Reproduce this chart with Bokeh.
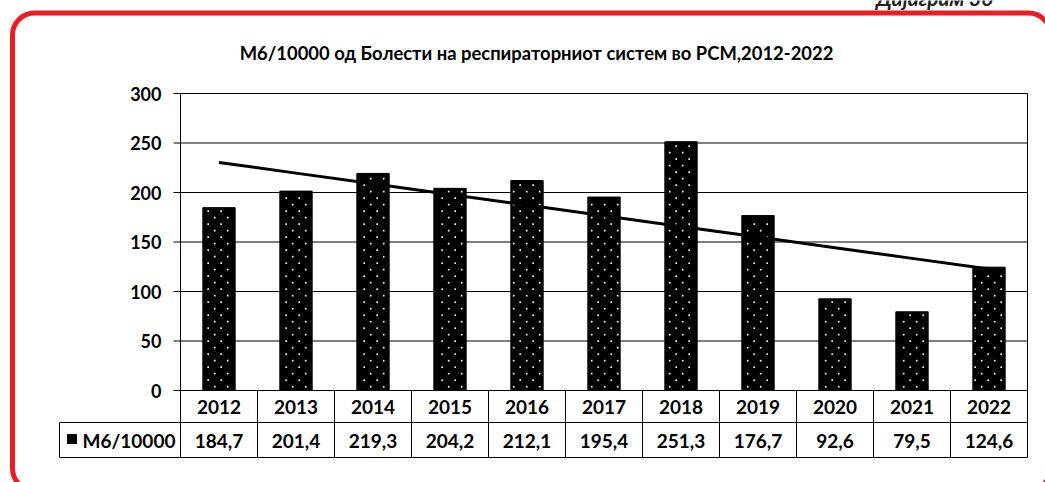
import numpy as np
from bokeh.plotting import figure
from bokeh.models import BoxAnnotation, Label, ColumnDataSource
from bokeh.core.properties import value
from bokeh.embed import file_html
from bokeh.resources import INLINE

years = ["2012", "2013", "2014", "2015", "2016", "2017", "2018", "2019", "2020", "2021", "2022"]
values = [184.7, 201.4, 219.3, 204.2, 212.1, 195.4, 251.3, 176.7, 92.6, 79.5, 124.6]
value_labels = ["184,7", "201,4", "219,3", "204,2", "212,1", "195,4", "251,3", "176,7", "92,6", "79,5", "124,6"]
y_ticks = [0, 50, 100, 150, 200, 250, 300]
y_tick_labels = ["0", "50", "100", "150", "200", "250", "300"]
series_name = "М6/10000"
title_text = "М6/10000 од Болести на респираторниот систем во РСМ,2012-2022"
corner_text = "Дијаграм 36"

FONT = "Lato"
RED = "#ed1c24"
W, H = 1045, 482
BAR_W = 0.42

n = len(years)
xs = [i + 0.5 for i in range(n)]

# page pixel -> data helpers (frame covers the whole canvas)
PX_X = 847 / n          # pixels per category (plot area 180..1027)
PX_Y = 297 / 300        # pixels per unit (300 at y=93, 0 at y=390)
def dx(px):
    return (px - 180) / PX_X
def dy(py):
    return (390 - py) / PX_Y
def to_px_x(x):
    return 180 + x * PX_X
def to_px_y(y):
    return 390 - y * PX_Y

y_bottom = dy(457)
row_mid = dy(422)
y_top = y_ticks[-1]

p = figure(width=W, height=H, output_backend="svg", toolbar_location=None,
           x_range=(dx(0), dx(W)), y_range=(dy(H), dy(0)),
           x_axis_location=None, y_axis_location=None, title=None,
           min_border=0, min_border_left=0, min_border_right=0,
           min_border_top=0, min_border_bottom=0)
p.background_fill_color = "white"
p.border_fill_color = "white"
p.outline_line_color = None
p.xgrid.visible = False
p.ygrid.visible = False

# horizontal grid lines
p.segment(x0=[0] * len(y_ticks), x1=[n] * len(y_ticks), y0=y_ticks, y1=y_ticks,
          line_color="black", line_width=1)

# bars
src = ColumnDataSource(dict(x=xs, top=values, year=years, lab=value_labels))
p.vbar(x="x", top="top", bottom=0, width=BAR_W, source=src,
       fill_color="black", line_color="black", line_width=1)

# staggered white dot texture inside each bar (derived from bar extents)
tex_x, tex_y = [], []
for xc, v in zip(xs, values):
    left_px, right_px = to_px_x(xc - BAR_W / 2) + 2, to_px_x(xc + BAR_W / 2) - 2
    top_px, base_px = to_px_y(v) + 3, to_px_y(0) - 2
    m0 = int(np.floor((top_px - 210.7) / 6.5))
    m1 = int(np.ceil((base_px - 210.7) / 6.5))
    for m in range(m0, m1 + 1):
        ypx = 210.7 + 6.5 * m
        if not (top_px <= ypx <= base_px):
            continue
        off = 6.5 if m % 2 else 0.0
        k0 = int(np.floor((left_px - 207.7 - off) / 13))
        k1 = int(np.ceil((right_px - 207.7 - off) / 13))
        for k in range(k0, k1 + 1):
            xpx = 207.7 + off + 13 * k
            if left_px <= xpx <= right_px:
                tex_x.append(dx(xpx))
                tex_y.append(dy(ypx))
p.scatter(x=tex_x, y=tex_y, marker="square", size=1.7, fill_color="white",
          line_color=None, fill_alpha=0.95)

# linear trend
coef = np.polyfit(np.arange(n), np.array(values), 1)
trend = np.polyval(coef, np.arange(n))
p.line(x=xs, y=list(trend), line_color="black", line_width=3)

# plot area border / y axis line
p.segment(x0=[0, n], x1=[0, n], y0=[y_bottom, y_bottom], y1=[y_top, y_top],
          line_color="black", line_width=1)
# tick marks and labels
p.segment(x0=[dx(173)] * len(y_ticks), x1=[0] * len(y_ticks), y0=y_ticks, y1=y_ticks,
          line_color="black", line_width=1)
p.text(x=[dx(161)] * len(y_ticks), y=y_ticks, text=y_tick_labels, text_align="right",
       text_baseline="middle", text_font=value(FONT), text_font_style="bold",
       text_font_size="18px", text_color="black")

# data table
p.segment(x0=list(range(1, n)), y0=[y_bottom] * (n - 1), x1=list(range(1, n)), y1=[0] * (n - 1),
          line_color="black", line_width=1)
p.segment(x0=[dx(59), dx(59)], y0=[row_mid, y_bottom], x1=[n, n], y1=[row_mid, y_bottom],
          line_color="black", line_width=1)
p.segment(x0=[dx(59)], y0=[row_mid], x1=[dx(59)], y1=[y_bottom], line_color="black", line_width=1)
p.text(x="x", y=dy(406), text="year", source=src, text_align="center", text_baseline="middle",
       text_font=value(FONT), text_font_style="bold", text_font_size="19px", text_color="black")
p.text(x="x", y=dy(440), text="lab", source=src, text_align="center", text_baseline="middle",
       text_font=value(FONT), text_font_style="bold", text_font_size="19px", text_color="black")

# legend key in the table
p.add_layout(BoxAnnotation(left=dx(67), right=dx(76), top=dy(434), bottom=dy(443),
                           fill_color="black", fill_alpha=1, line_color="black", line_alpha=1))
p.add_layout(Label(x=dx(82), y=dy(440), text=series_name, text_align="left", text_baseline="middle",
                   text_font=FONT, text_font_style="bold", text_font_size="19px", text_color="black"))

# title
p.add_layout(Label(x=dx(536), y=dy(52), text=title_text, text_align="center", text_baseline="middle",
                   text_font=FONT, text_font_style="bold", text_font_size="18.4px", text_color="black"))

# red rounded frame
p.add_layout(BoxAnnotation(left=dx(12), right=dx(1050), top=dy(12.5), bottom=dy(490),
                           fill_alpha=0, line_color=RED, line_width=5, line_alpha=1,
                           border_radius=22))
# corner caption (cut by the top edge as in the original)
p.add_layout(Label(x=dx(992), y=dy(-3), text=corner_text, text_align="right", text_baseline="alphabetic",
                   text_font=FONT, text_font_style="bold italic", text_font_size="21px", text_color="#222222"))

open("out.html", "w").write(file_html(p, INLINE))
